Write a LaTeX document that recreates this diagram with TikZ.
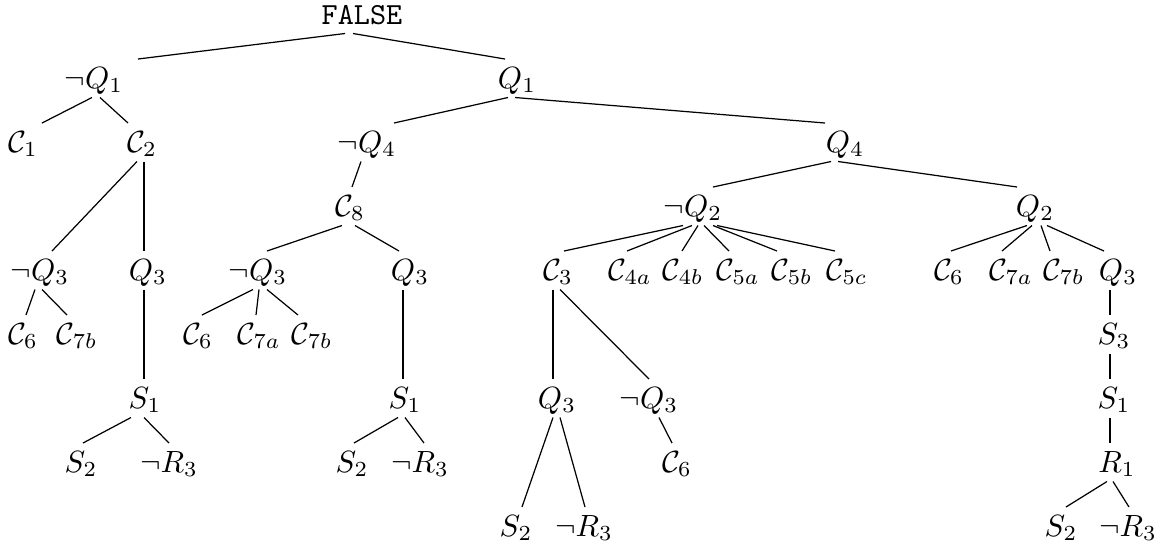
\documentclass[tikz,border=0pt]{standalone}
\usetikzlibrary{calc}
\tikzset{
  x=0.3257pt, y=-0.3257pt,
  lab/.style={anchor=base, inner sep=0pt},
  branch/.style={line width=0.4pt}
}
% \ed{parent}{dx at parent}{child}{dx at child}:
% a branch from just under the parent's baseline to just over the child's text
\newcommand\ed[4]{%
  \draw[branch] ($(#1.base)+(#2,9.5)$) -- ($(#3.base)+(#4,-29)$);}
\begin{document}
\begin{tikzpicture}
\useasboundingbox (0,0) rectangle (1162,548);
% level 0
\node[lab] (f) at (362,24) {\texttt{FALSE}};
% level 1
\node[lab] (nq1) at (94,88) {$\neg Q_1$};
\node[lab] (q1) at (517,88) {$Q_1$};
% level 2
\node[lab] (c1) at (23,152) {$\mathcal{C}_1$};
\node[lab] (c2) at (142,152) {$\mathcal{C}_2$};
\node[lab] (nq4) at (367,152) {$\neg Q_4$};
\node[lab] (q4) at (845,152) {$Q_4$};
% level 3
\node[lab] (c8) at (350,216) {$\mathcal{C}_8$};
\node[lab] (nq2) at (693,216) {$\neg Q_2$};
\node[lab] (q2) at (1035,216) {$Q_2$};
% level 4
\node[lab] (anq3) at (40,280) {$\neg Q_3$};
\node[lab] (aq3) at (148,280) {$Q_3$};
\node[lab] (bnq3) at (258,280) {$\neg Q_3$};
\node[lab] (bq3) at (410,280) {$Q_3$};
\node[lab] (c3) at (558,280) {$\mathcal{C}_3$};
\node[lab] (c4a) at (630,280) {$\mathcal{C}_{4a}$};
\node[lab] (c4b) at (683,280) {$\mathcal{C}_{4b}$};
\node[lab] (c5a) at (738,280) {$\mathcal{C}_{5a}$};
\node[lab] (c5b) at (792,280) {$\mathcal{C}_{5b}$};
\node[lab] (c5c) at (847,280) {$\mathcal{C}_{5c}$};
\node[lab] (dc6) at (949,280) {$\mathcal{C}_6$};
\node[lab] (dc7a) at (1011,280) {$\mathcal{C}_{7a}$};
\node[lab] (dc7b) at (1064,280) {$\mathcal{C}_{7b}$};
\node[lab] (dq3) at (1118,280) {$Q_3$};
% level 5
\node[lab] (ac6) at (23,344) {$\mathcal{C}_6$};
\node[lab] (ac7b) at (77,344) {$\mathcal{C}_{7b}$};
\node[lab] (bc6) at (198,344) {$\mathcal{C}_6$};
\node[lab] (bc7a) at (259,344) {$\mathcal{C}_{7a}$};
\node[lab] (bc7b) at (312,344) {$\mathcal{C}_{7b}$};
\node[lab] (ds3) at (1114,344) {$S_3$};
% level 6
\node[lab] (as1) at (145,408) {$S_1$};
\node[lab] (bs1) at (405,408) {$S_1$};
\node[lab] (cq3) at (557,408) {$Q_3$};
\node[lab] (cnq3) at (649,408) {$\neg Q_3$};
\node[lab] (ds1) at (1114,408) {$S_1$};
% level 7
\node[lab] (as2) at (81,472) {$S_2$};
\node[lab] (anr3) at (169,472) {$\neg R_3$};
\node[lab] (bs2) at (352,472) {$S_2$};
\node[lab] (bnr3) at (420,472) {$\neg R_3$};
\node[lab] (cc6) at (677,472) {$\mathcal{C}_6$};
\node[lab] (dr1) at (1117,472) {$R_1$};
% level 8
\node[lab] (cs2) at (516,536) {$S_2$};
\node[lab] (cnr3) at (584,536) {$\neg R_3$};
\node[lab] (ds2) at (1061,536) {$S_2$};
\node[lab] (dnr3) at (1128,536) {$\neg R_3$};

% branches
\ed{f}{-17}{nq1}{44}   \ed{f}{-9}{q1}{-12}
\ed{nq1}{-2}{c1}{19}   \ed{nq1}{6}{c2}{-14}
\ed{c2}{-5}{anq3}{12}  \ed{c2}{2}{aq3}{-4}
\ed{anq3}{-5}{ac6}{3}  \ed{anq3}{2}{ac7b}{-10}
\ed{aq3}{-4}{as1}{-1}
\ed{as1}{-14}{as2}{2}  \ed{as1}{-1}{anr3}{0}
\ed{q1}{-9}{nq4}{27}   \ed{q1}{-2}{q4}{-20}
\ed{nq4}{-6}{c8}{2}
\ed{c8}{-8}{bnq3}{9}   \ed{c8}{5}{bq3}{-11}
\ed{bnq3}{-5}{bc6}{4}  \ed{bnq3}{1}{bc7a}{-3}  \ed{bnq3}{9}{bc7b}{-14}
\ed{bq3}{-7}{bs1}{-2}
\ed{bs1}{-7}{bs2}{2}   \ed{bs1}{0}{bnr3}{4}
\ed{q4}{-14}{nq2}{20}  \ed{q4}{-7}{q2}{-18}
\ed{nq2}{-10}{c3}{6}   \ed{nq2}{-1}{c4a}{-3}   \ed{nq2}{5}{c4b}{-1}
\ed{nq2}{11}{c5a}{-9}  \ed{nq2}{20}{c5b}{-15}  \ed{nq2}{24}{c5c}{-12}
\ed{c3}{-5}{cq3}{-4}   \ed{c3}{2}{cnq3}{0}
\ed{cq3}{-4}{cs2}{6}   \ed{cq3}{3}{cnr3}{1}
\ed{cnq3}{10}{cc6}{-5}
\ed{q2}{-8}{dc6}{2}    \ed{q2}{-3}{dc7a}{-9}
\ed{q2}{6}{dc7b}{-14}  \ed{q2}{12}{dq3}{-14}
\ed{dq3}{-8}{ds3}{-4}  \ed{ds3}{-4}{ds1}{-4}  \ed{ds1}{-4}{dr1}{-7}
\ed{dr1}{-10}{ds2}{5}  \ed{dr1}{-4}{dnr3}{1}
\end{tikzpicture}
\end{document}
